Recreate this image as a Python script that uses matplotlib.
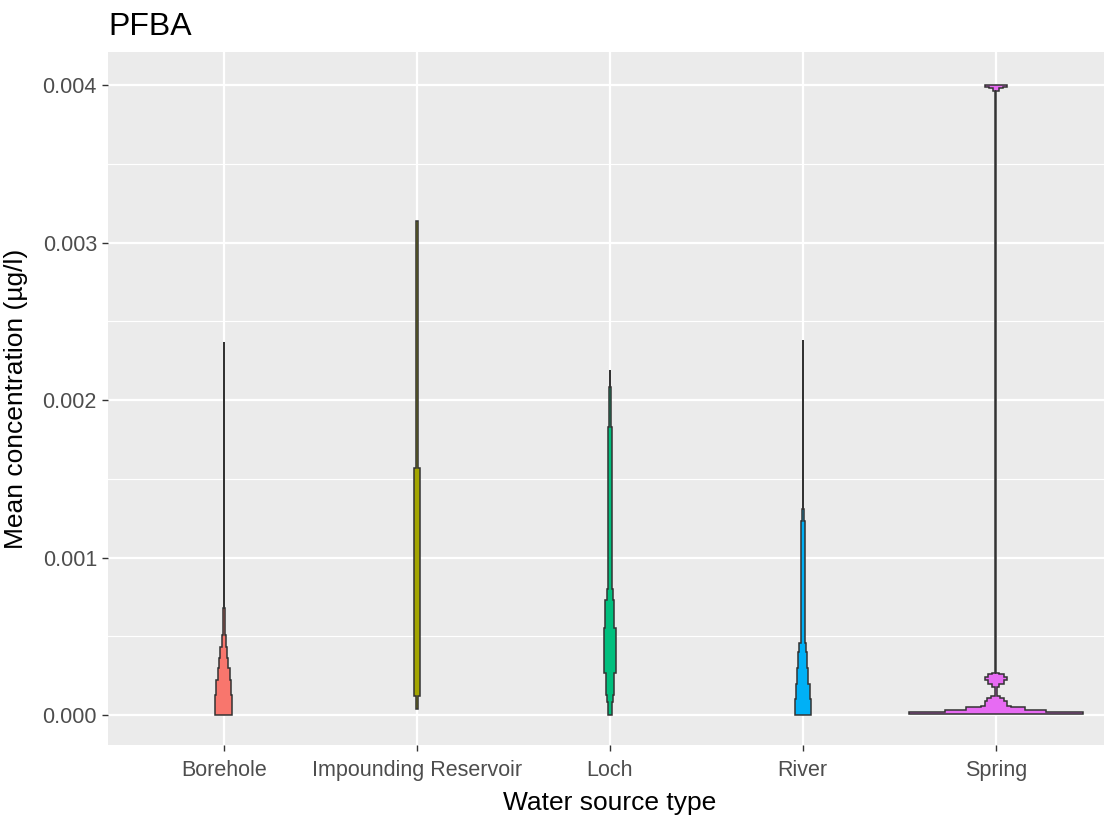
import matplotlib
matplotlib.use("Agg")
import matplotlib.pyplot as plt
import numpy as np

# Données
sources = ["Borehole", "Impounding Reservoir", "Loch", "River", "Spring"]
colors = ["#F8766D", "#A3A500", "#00BF7D", "#00B0F6", "#E76BF3"]

# profil des violons : bornes en y (µg/l) et demi-largeur relative (1 = largeur max)
borehole_y = [0.0, 0.00013, 0.00022, 0.00030, 0.00036, 0.00043, 0.00051, 0.00068, 0.00237]
borehole_w = [0.098, 0.086, 0.069, 0.052, 0.038, 0.025, 0.011, 0.003]

reservoir_y = [0.00004, 0.00012, 0.00157, 0.00314]
reservoir_w = [0.011, 0.034, 0.012]

loch_y = [0.0, 0.00008, 0.00013, 0.00027, 0.00055, 0.00073, 0.00080, 0.00183, 0.00208, 0.00219]
loch_w = [0.023, 0.034, 0.046, 0.069, 0.052, 0.034, 0.025, 0.012, 0.003]

river_y = [0.0, 0.00010, 0.00020, 0.00030, 0.00040, 0.00046, 0.00123, 0.00131, 0.00238]
river_w = [0.092, 0.080, 0.063, 0.052, 0.038, 0.023, 0.012, 0.003]

spring_y = [0.00001, 0.00002, 0.00003, 0.00005, 0.00006, 0.00009, 0.00011, 0.00012,
            0.00018, 0.00020, 0.00022, 0.00024, 0.00026, 0.00027,
            0.00396, 0.00398, 0.00399, 0.00400]
spring_w = [1.0, 0.58, 0.34, 0.17, 0.126, 0.10, 0.05, 0.011,
            0.04, 0.09, 0.126, 0.09, 0.04, 0.004,
            0.035, 0.08, 0.126]

profiles = [(borehole_y, borehole_w), (reservoir_y, reservoir_w), (loch_y, loch_w),
            (river_y, river_w), (spring_y, spring_w)]

yticks = [0.000, 0.001, 0.002, 0.003, 0.004]

plt.rcParams["font.family"] = ["Liberation Sans", "DejaVu Sans"]

fig = plt.figure(figsize=(11.04, 8.16), dpi=100)
ax = fig.add_axes([108 / 1104, 71 / 816, 5.2 * 193 / 1104, 693 / 816])
ax.set_facecolor("#EBEBEB")


def step_polygon(edges, widths, center, scale=0.45):
    """Contour en escalier d'un violon, symétrique autour de center."""
    ys, xs = [], []
    for i, w in enumerate(widths):
        ys += [edges[i], edges[i + 1]]
        xs += [w, w]
    ys = np.array(ys)
    xs = np.array(xs) * scale
    px = np.concatenate([center + xs, (center - xs)[::-1]])
    py = np.concatenate([ys, ys[::-1]])
    return px, py


for i, ((ey, wd), col) in enumerate(zip(profiles, colors)):
    px, py = step_polygon(ey, wd, i + 1)
    ax.fill(px, py, facecolor=col, edgecolor="#333333", linewidth=1.1, zorder=3)

ax.set_xlim(0.4, 5.6)
ax.set_ylim(-0.00019, 0.00421)
ax.set_xticks(range(1, 6))
ax.set_xticklabels(sources)
ax.set_yticks(yticks)
ax.set_yticklabels([f"{v:.3f}" for v in yticks])
ax.set_yticks(np.arange(0.0005, 0.0041, 0.001), minor=True)

ax.grid(which="major", color="white", linewidth=1.6, zorder=0)
ax.grid(which="minor", axis="y", color="white", linewidth=0.8, zorder=0)
ax.set_axisbelow(True)
for s in ax.spines.values():
    s.set_visible(False)

ax.tick_params(axis="both", which="major", length=4, width=1, color="#333333",
               labelsize=15.5, labelcolor="#4D4D4D")
ax.tick_params(axis="x", which="major", pad=7)
ax.tick_params(axis="y", which="major", pad=4)
ax.tick_params(axis="both", which="minor", length=0)

ax.set_xlabel("Water source type", fontsize=19, labelpad=7)
ax.set_ylabel("Mean concentration (µg/l)", fontsize=19, labelpad=10)
ax.set_title("PFBA", loc="left", fontsize=23, pad=12)

fig.savefig("out.png", dpi=100)
